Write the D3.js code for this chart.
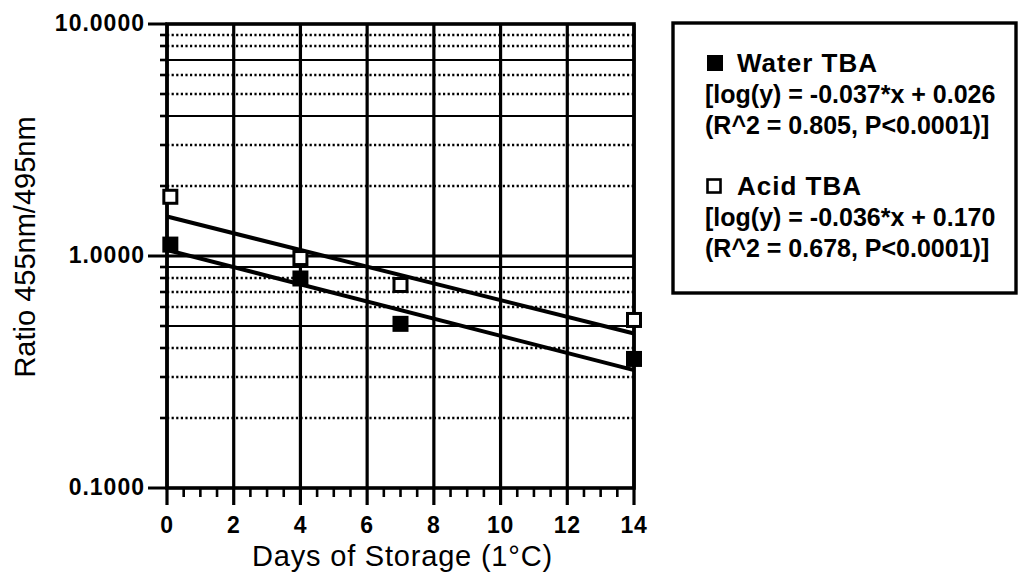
<!DOCTYPE html>
<html>
<head>
<meta charset="utf-8">
<script src="https://cdn.jsdelivr.net/npm/d3@7"></script>
<style>
  html, body { margin: 0; padding: 0; background: #fff; }
  svg { display: block; }
  text { font-family: "Liberation Sans", Arial, Helvetica, sans-serif; fill: #000; }
</style>
</head>
<body>
<svg id="chart" width="1019" height="577"></svg>
<script>
// Storage days sampled for each treatment
const days = [0.1, 4, 7, 14];
// 455nm/495nm absorbance ratio, water-extracted TBA
const waterRatio = [1.12, 0.80, 0.51, 0.36];
// 455nm/495nm absorbance ratio, acid-extracted TBA
const acidRatio = [1.80, 0.98, 0.75, 0.53];
// Fitted log-linear regressions: log10(y) = slope * x + intercept
const waterFit = { slope: -0.037, intercept: 0.026 };
const acidFit = { slope: -0.036, intercept: 0.170 };
// Axis ticks
const xTicks = [0, 2, 4, 6, 8, 10, 12, 14];
const yTickLabels = ["0.1000", "1.0000", "10.0000"];
const yTicks = [0.1, 1, 10];
// Legend entries
const legendNames = ["Water TBA", "Acid TBA"];
const legendEq = [
  ["[log(y) = -0.037*x + 0.026", "(R^2 = 0.805, P<0.0001)]"],
  ["[log(y) = -0.036*x + 0.170", "(R^2 = 0.678, P<0.0001)]"]
];
// Minor gridlines that print as continuous rules rather than dots
const solidMinor = [7, 4, 0.9, 0.5];

const svg = d3.select("#chart");
const L = 167, R = 634, T = 24, B = 488;

const x = d3.scaleLinear().domain([0, 14]).range([L, R]);
const y = d3.scaleLog().domain([0.1, 10]).range([B, T]);

// Minor log values within each decade
const minorVals = [];
[0.1, 1].forEach(d => { for (let k = 2; k <= 9; k++) minorVals.push(+(d * k).toFixed(3)); });

const grid = svg.append("g");
// horizontal minor gridlines
grid.selectAll("line.minor").data(minorVals).join("line")
  .attr("x1", L).attr("x2", R)
  .attr("y1", d => Math.round(y(d))).attr("y2", d => Math.round(y(d)))
  .attr("stroke", "#000")
  .attr("stroke-width", d => solidMinor.includes(d) ? 2 : 2.4)
  .attr("stroke-dasharray", d => solidMinor.includes(d) ? null : "2.2,2.4");
// decade line at 1.0
grid.append("line")
  .attr("x1", L).attr("x2", R).attr("y1", y(1)).attr("y2", y(1))
  .attr("stroke", "#000").attr("stroke-width", 3);
// vertical gridlines
grid.selectAll("line.v").data(xTicks).join("line")
  .attr("x1", d => x(d)).attr("x2", d => x(d))
  .attr("y1", T).attr("y2", B)
  .attr("stroke", "#000").attr("stroke-width", 3.2);
// frame
svg.append("rect").attr("x", L).attr("y", T).attr("width", R - L).attr("height", B - T)
  .attr("fill", "none").attr("stroke", "#000").attr("stroke-width", 3.6);

// Y axis ticks (outside, to the left)
const yAxis = svg.append("g");
yAxis.selectAll("line.ymin").data(minorVals).join("line")
  .attr("x1", L - 7).attr("x2", L).attr("y1", d => Math.round(y(d))).attr("y2", d => Math.round(y(d)))
  .attr("stroke", "#000").attr("stroke-width", 2.6);
yAxis.selectAll("line.ymaj").data(yTicks).join("line")
  .attr("x1", L - 19).attr("x2", L).attr("y1", d => y(d)).attr("y2", d => y(d))
  .attr("stroke", "#000").attr("stroke-width", 3);
yAxis.selectAll("text").data(yTicks).join("text")
  .attr("x", L - 22).attr("y", d => y(d) + 7)
  .attr("text-anchor", "end").attr("font-size", 23).attr("font-weight", "bold")
  .attr("letter-spacing", 1)
  .text((d, i) => yTickLabels[i]);

// X axis ticks (outside, below)
const xMinor = d3.range(0.5, 14, 0.5).filter(v => v % 2 !== 0);
const xAxis = svg.append("g");
xAxis.selectAll("line.xmin").data(xMinor).join("line")
  .attr("x1", d => x(d)).attr("x2", d => x(d)).attr("y1", B).attr("y2", B + 9)
  .attr("stroke", "#000").attr("stroke-width", 2.6);
xAxis.selectAll("line.xmaj").data(xTicks).join("line")
  .attr("x1", d => x(d)).attr("x2", d => x(d)).attr("y1", B).attr("y2", B + 17)
  .attr("stroke", "#000").attr("stroke-width", 3.2);
xAxis.selectAll("text").data(xTicks).join("text")
  .attr("x", d => x(d)).attr("y", B + 45)
  .attr("text-anchor", "middle").attr("font-size", 23).attr("font-weight", "bold")
  .attr("letter-spacing", 0.8)
  .text(d => d);

// Axis titles
svg.append("text")
  .attr("x", (L + R) / 2 + 2).attr("y", 566)
  .attr("text-anchor", "middle").attr("font-size", 29).attr("letter-spacing", 0.8)
  .text("Days of Storage (1°C)");
svg.append("text")
  .attr("transform", `translate(35,${247}) rotate(-90)`)
  .attr("text-anchor", "middle").attr("font-size", 29)
  .text("Ratio 455nm/495nm");

// Regression lines
const fitLine = d3.line().x(d => x(d[0])).y(d => y(d[1]));
[waterFit, acidFit].forEach(f => {
  const pts = [0, 14].map(v => [v, Math.pow(10, f.slope * v + f.intercept)]);
  svg.append("path").attr("d", fitLine(pts))
    .attr("fill", "none").attr("stroke", "#000").attr("stroke-width", 4);
});

// Data markers
const S = 16;
svg.append("g").selectAll("rect").data(days.map((d, i) => [d, waterRatio[i]])).join("rect")
  .attr("x", d => x(d[0]) - S / 2).attr("y", d => y(d[1]) - S / 2)
  .attr("width", S).attr("height", S).attr("fill", "#000");
svg.append("g").selectAll("rect").data(days.map((d, i) => [d, acidRatio[i]])).join("rect")
  .attr("x", d => x(d[0]) - (S - 3) / 2).attr("y", d => y(d[1]) - (S - 3) / 2)
  .attr("width", S - 3).attr("height", S - 3)
  .attr("fill", "#fff").attr("stroke", "#000").attr("stroke-width", 3);

// Legend
const lg = svg.append("g");
lg.append("rect").attr("x", 673).attr("y", 23).attr("width", 343).attr("height", 270)
  .attr("fill", "#fff").attr("stroke", "#000").attr("stroke-width", 3.4);
const rowY = [72, 195];
legendNames.forEach((name, i) => {
  const by = rowY[i];
  if (i === 0) {
    lg.append("rect").attr("x", 707).attr("y", by - 17).attr("width", 16).attr("height", 16).attr("fill", "#000");
  } else {
    lg.append("rect").attr("x", 707.5).attr("y", by - 15.5).attr("width", 13).attr("height", 13)
      .attr("fill", "#fff").attr("stroke", "#000").attr("stroke-width", 2.6);
  }
  lg.append("text").attr("x", 737).attr("y", by)
    .attr("font-size", 26).attr("font-weight", "bold").attr("letter-spacing", 1).text(name);
  legendEq[i].forEach((line, j) => {
    lg.append("text").attr("x", 705).attr("y", by + 30.5 + j * 31)
      .attr("font-size", 25).attr("font-weight", "bold").text(line);
  });
});
</script>
</body>
</html>
